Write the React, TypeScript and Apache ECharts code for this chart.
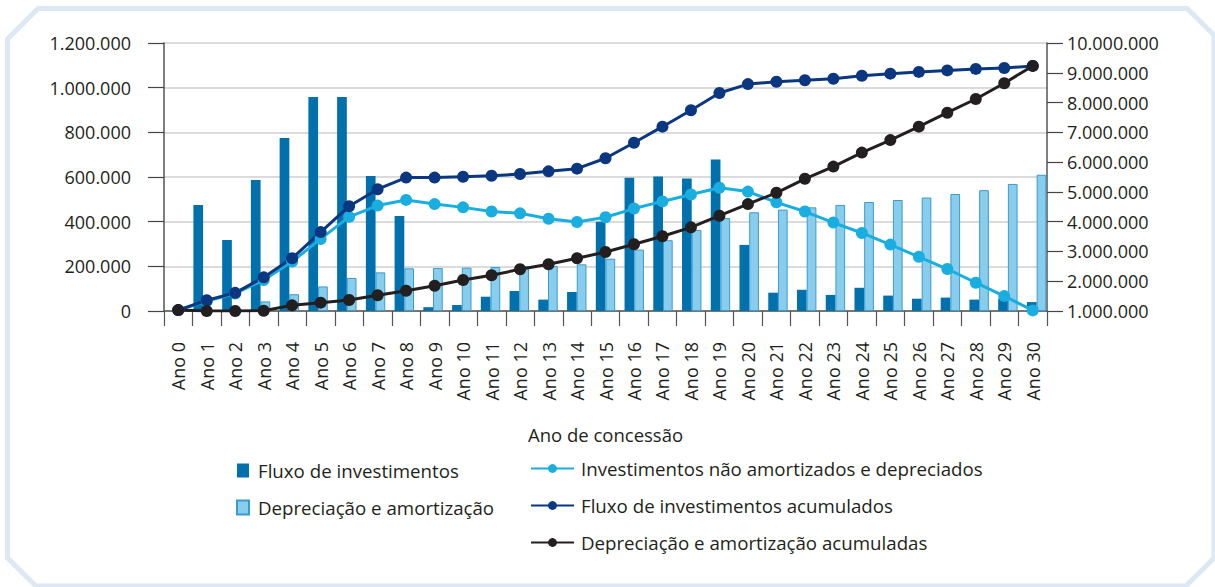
import React, { useEffect, useRef } from "react";
import * as echarts from "echarts";

const categories = [
  "Ano 0", "Ano 1", "Ano 2", "Ano 3", "Ano 4", "Ano 5", "Ano 6", "Ano 7", "Ano 8", "Ano 9",
  "Ano 10", "Ano 11", "Ano 12", "Ano 13", "Ano 14", "Ano 15", "Ano 16", "Ano 17", "Ano 18", "Ano 19",
  "Ano 20", "Ano 21", "Ano 22", "Ano 23", "Ano 24", "Ano 25", "Ano 26", "Ano 27", "Ano 28", "Ano 29", "Ano 30",
];

// Left axis (bars)
const fluxoInvestimentos = [
  0, 475000, 318000, 587000, 775000, 958000, 958000, 605000, 425000, 17000,
  27000, 64000, 90000, 51000, 85000, 400000, 597000, 602000, 593000, 678000,
  296000, 82000, 95000, 72000, 104000, 69000, 55000, 60000, 51000, 55000, 40000,
];
const depreciacaoAmortizacao = [
  0, 5000, 8000, 43000, 75000, 110000, 148000, 173000, 191000, 192000,
  194000, 197000, 201000, 202000, 209000, 234000, 275000, 317000, 363000, 416000,
  442000, 454000, 464000, 475000, 488000, 497000, 508000, 524000, 541000, 569000, 610000,
];

// Right axis (lines)
const investimentosNaoAmortizados = [
  1030000, 1330000, 1590000, 2040000, 2660000, 3420000, 4160000, 4540000, 4730000, 4590000,
  4480000, 4340000, 4280000, 4100000, 3990000, 4150000, 4440000, 4680000, 4910000, 5140000,
  5010000, 4650000, 4340000, 3970000, 3620000, 3230000, 2820000, 2410000, 1950000, 1500000, 1020000,
];
const fluxoAcumulado = [
  1030000, 1360000, 1610000, 2130000, 2770000, 3650000, 4520000, 5090000, 5480000, 5480000,
  5510000, 5540000, 5600000, 5690000, 5780000, 6130000, 6650000, 7190000, 7740000, 8320000,
  8620000, 8700000, 8750000, 8800000, 8900000, 8970000, 9030000, 9080000, 9130000, 9160000, 9230000,
];
const depreciacaoAcumulada = [
  1030000, 1000000, 1000000, 1010000, 1190000, 1280000, 1370000, 1530000, 1680000, 1850000,
  2040000, 2200000, 2400000, 2570000, 2770000, 2980000, 3240000, 3510000, 3810000, 4200000,
  4590000, 4970000, 5440000, 5850000, 6320000, 6740000, 7190000, 7660000, 8120000, 8650000, 9230000,
];

const leftMin = 0;
const leftMax = 1200000;
const leftInterval = 200000;
const rightMin = 1000000;
const rightMax = 10000000;
const rightInterval = 1000000;

const fmt = (v: number) => String(v).replace(/\B(?=(\d{3})+(?!\d))/g, ".");

const TEXT = "#231f20";
const FONT = "Open Sans";

export default function App() {
  const ref = useRef<HTMLDivElement>(null);
  useEffect(() => {
    if (!ref.current) return;
    const chart = echarts.init(ref.current, undefined, { renderer: "svg" });
    const labelStyle = { color: TEXT, fontFamily: FONT, fontSize: 18 };
    const legendText = { color: TEXT, fontFamily: FONT, fontSize: 18.7 };
    chart.setOption({
      animation: false,
      textStyle: { fontFamily: FONT, color: TEXT },
      graphic: [
        {
          type: "polygon",
          silent: true,
          shape: {
            points: [
              [38, 8.5], [1187, 8.5], [1214, 35], [1214, 558],
              [1186, 586], [36, 586], [7.5, 558], [7.5, 39],
            ],
          },
          style: { fill: "none", stroke: "#dde8f5", lineWidth: 5 },
          z: -10,
        },
      ],
      grid: [
        { left: 164, top: 43, width: 883, height: 268 },
        { left: 160, top: 43, width: 891, height: 268 },
      ],
      legend: [
        {
          orient: "vertical",
          left: 236,
          top: 461,
          padding: 0,
          itemWidth: 12,
          itemHeight: 14,
          itemGap: 18,
          icon: "rect",
          data: ["Fluxo de investimentos", "Depreciação e amortização"],
          textStyle: { ...legendText, padding: [0, 0, 0, 4] },
        },
        {
          orient: "vertical",
          left: 530,
          top: 459,
          padding: 0,
          itemWidth: 43,
          itemHeight: 11,
          itemGap: 18,
          data: [
            "Investimentos não amortizados e depreciados",
            "Fluxo de investimentos acumulados",
            "Depreciação e amortização acumuladas",
          ],
          textStyle: { ...legendText, padding: [0, 0, 0, 2] },
        },
      ],
      xAxis: [
        {
          type: "category",
          gridIndex: 0,
          data: categories,
          boundaryGap: true,
          name: "Ano de concessão",
          nameLocation: "middle",
          nameGap: 114,
          nameTextStyle: { ...labelStyle, fontSize: 18.5 },
          axisLine: { onZero: false, lineStyle: { color: "#555", width: 1.5 } },
          axisTick: { show: true, length: 15, lineStyle: { color: "#555", width: 1.2 } },
          axisLabel: { ...labelStyle, rotate: 90, interval: 0, margin: 31 },
        },
        {
          type: "category",
          gridIndex: 1,
          data: categories,
          boundaryGap: true,
          show: false,
        },
      ],
      yAxis: [
        {
          type: "value",
          gridIndex: 0,
          min: leftMin,
          max: leftMax,
          interval: leftInterval,
          axisLine: { show: true, lineStyle: { color: "#555", width: 1.5 } },
          axisTick: { show: true, length: 16, lineStyle: { color: "#444", width: 1.2 } },
          axisLabel: { ...labelStyle, margin: 33, formatter: (v: number) => fmt(v) },
          splitLine: { show: true, lineStyle: { color: "#cfcfcf", width: 1.5 } },
        },
        {
          type: "value",
          gridIndex: 0,
          position: "right",
          min: rightMin,
          max: rightMax,
          interval: rightInterval,
          axisLine: { show: true, lineStyle: { color: "#555", width: 1.5 } },
          axisTick: { show: true, length: 16, lineStyle: { color: "#444", width: 1.2 } },
          axisLabel: { ...labelStyle, margin: 20, formatter: (v: number) => fmt(v) },
          splitLine: { show: false },
        },
        {
          type: "value",
          gridIndex: 1,
          min: leftMin,
          max: leftMax,
          interval: leftInterval,
          show: false,
          splitLine: { show: false },
        },
      ],
      series: [
        {
          name: "Fluxo de investimentos",
          type: "bar",
          xAxisIndex: 1,
          yAxisIndex: 2,
          data: fluxoInvestimentos,
          barWidth: 9.7,
          barGap: "0%",
          itemStyle: { color: "#0071ad" },
        },
        {
          name: "Depreciação e amortização",
          type: "bar",
          xAxisIndex: 1,
          yAxisIndex: 2,
          data: depreciacaoAmortizacao,
          barWidth: 9.7,
          barGap: "0%",
          itemStyle: { color: "#88cdec", borderColor: "#3b9ad2", borderWidth: 1 },
        },
        {
          name: "Investimentos não amortizados e depreciados",
          type: "line",
          xAxisIndex: 0,
          yAxisIndex: 1,
          data: investimentosNaoAmortizados,
          symbol: "circle",
          symbolSize: 12,
          lineStyle: { color: "#1aaee0", width: 3 },
          itemStyle: { color: "#1aaee0" },
        },
        {
          name: "Fluxo de investimentos acumulados",
          type: "line",
          xAxisIndex: 0,
          yAxisIndex: 1,
          data: fluxoAcumulado,
          symbol: "circle",
          symbolSize: 12,
          lineStyle: { color: "#0b3680", width: 3 },
          itemStyle: { color: "#0b3680" },
        },
        {
          name: "Depreciação e amortização acumuladas",
          type: "line",
          xAxisIndex: 0,
          yAxisIndex: 1,
          data: depreciacaoAcumulada,
          symbol: "circle",
          symbolSize: 12,
          lineStyle: { color: "#231f20", width: 3 },
          itemStyle: { color: "#231f20" },
        },
      ],
    });
    return () => chart.dispose();
  }, []);
  return (
    <div
      ref={ref}
      style={{ position: "fixed", left: 0, top: 0, width: 1215, height: 587, background: "#fff" }}
    />
  );
}
